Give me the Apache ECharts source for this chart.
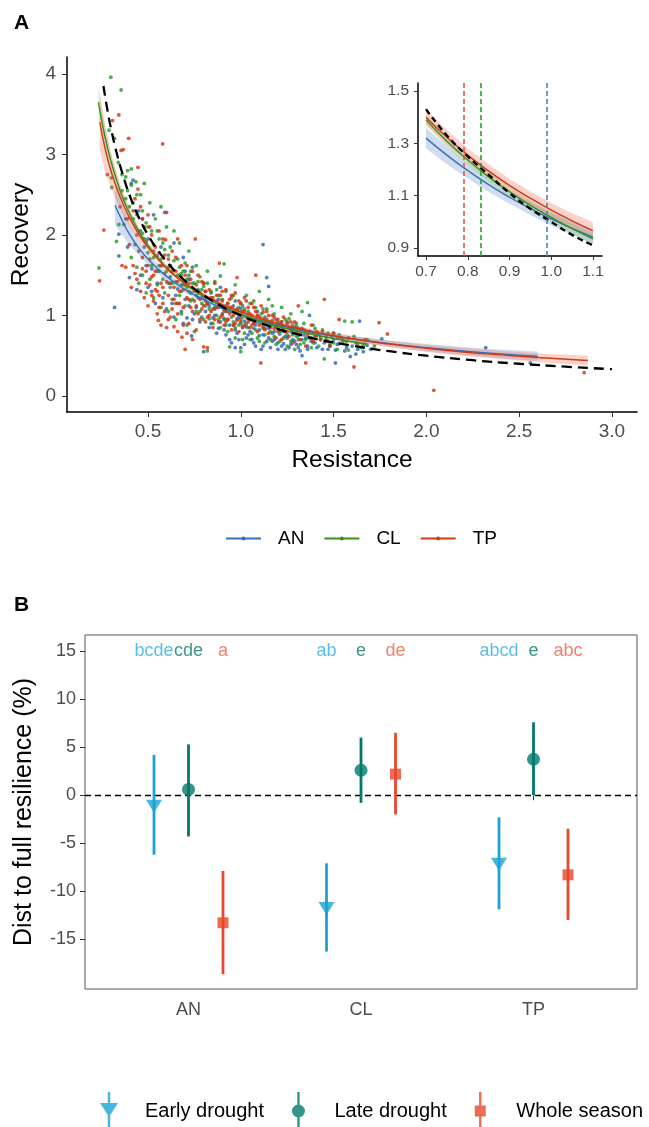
<!DOCTYPE html>
<html><head><meta charset="utf-8">
<script src="https://cdn.jsdelivr.net/npm/echarts@6/dist/echarts.min.js"></script>
<style>html,body{margin:0;padding:0;background:#fff}#c{width:649px;height:1127px}</style>
</head><body><div id="c"></div>
<script>
// ---------- Panel A : scatter points (Resistance, Recovery) ----------
const ptsAN = [[0.32,1.10],[0.343,1.74],[0.343,2.01],[0.41,2.64],[0.42,2.68],[0.40,1.47],[0.44,1.32],[0.45,2.30],
[0.47,2.20],[0.49,1.62],[0.50,1.95],[0.52,1.30],[0.53,2.25],[0.55,1.74],[0.56,1.55],[0.58,1.22],[0.59,2.28],[0.57,1.85],
[0.61,1.40],[0.62,1.62],[0.63,1.15],[0.64,1.90],[0.66,1.33],[0.67,1.50],[0.68,1.05],[0.69,1.72],[0.70,1.20],[0.71,0.97],[0.72,1.45],[0.73,1.28],[0.735,0.745],[0.74,1.60],
[0.76,1.10],[0.77,1.32],[0.78,0.92],[0.79,1.22],[0.80,0.55],[0.80,1.40],[0.81,1.05],[0.82,1.15],[0.83,0.85],[0.84,1.28],[0.85,0.97],[0.86,1.08],[0.87,0.78],[0.88,1.20],[0.89,0.92],[0.89,1.35],
[0.90,1.02],[0.91,0.82],[0.92,1.12],[0.93,0.95],[0.94,0.70],[0.95,1.05],[0.96,0.88],[0.97,0.60],[0.97,1.18],[0.98,0.78],[0.99,0.98],[1.00,0.60],[1.00,1.08],[1.01,0.85],[1.02,0.93],[1.03,0.72],[1.04,1.02],[1.05,0.80],
[1.06,0.95],[1.07,0.66],[1.08,0.88],[1.09,1.05],[1.10,0.75],[1.11,0.92],[1.12,0.62],[1.12,1.88],[1.13,0.84],[1.14,1.47],[1.15,1.36],[1.15,0.72],[1.16,0.90],[1.17,0.68],[1.18,0.80],[1.19,0.95],[1.20,0.58],
[1.21,0.77],[1.22,0.86],[1.23,0.65],[1.24,0.74],[1.25,0.92],[1.26,0.60],[1.27,0.80],[1.28,0.70],[1.29,0.85],[1.30,0.64],[1.31,0.75],[1.32,0.56],[1.33,0.50],[1.35,0.72],[1.36,0.62],[1.37,1.00],[1.38,0.68],[1.39,0.78],
[1.41,0.60],[1.43,0.70],[1.45,0.66],[1.47,0.58],[1.49,0.74],[1.51,0.41],[1.51,0.57],[1.53,0.65],[1.55,0.70],[1.57,0.60],[1.59,0.49],[1.62,0.52],[1.64,0.93],[1.66,0.55],[1.68,0.63],[1.70,0.58],[1.76,0.71],[2.32,0.60],[2.56,0.41],
[0.62,1.48],[0.65,1.25],[0.68,1.38],[0.72,1.12],[0.75,1.02],[0.77,1.22],[0.79,0.98],[0.81,1.30],[0.83,1.12],[0.84,0.90],[0.86,1.00],[0.87,1.18],[0.88,0.84],[0.90,1.10],[0.91,0.96],[0.92,0.76],[0.93,1.05],[0.94,0.88],[0.95,0.66],[0.96,1.12],
[0.97,0.82],[0.98,0.96],[0.99,0.70],[1.00,0.90],[1.01,1.12],[1.02,0.64],[1.03,0.86],[1.04,0.76],[1.05,0.95],[1.06,0.70],[1.07,0.84],[1.08,0.62],[1.09,0.92],[1.10,0.82],[1.11,0.58],[1.12,0.76],[1.13,0.98],[1.14,0.68],[1.15,0.84],[1.16,0.60],
[1.17,0.78],[1.18,0.70],[1.19,0.86],[1.20,0.66],[1.21,0.90],[1.22,0.62],[1.23,0.80],[1.24,0.58],[1.25,0.72],[1.26,0.84],[1.27,0.64],[1.28,0.78],[1.29,0.68],[1.30,0.80],[1.31,0.60],[1.33,0.70],[1.34,0.76],[1.36,0.58],[1.38,0.72],[1.40,0.66],
[1.42,0.76],[1.44,0.58],[1.46,0.68],[1.48,0.62],[1.50,0.70],[1.52,0.64],[1.56,0.56],[1.60,0.62],[1.63,0.58],[0.55,1.40],[0.58,1.62],[0.48,1.85],[0.52,1.58],[0.46,2.05],[0.38,2.20],[0.70,1.55],[0.74,0.95],[0.66,1.15],
[0.39,1.85],[0.46,1.50],[0.50,1.35],[0.54,1.15],[0.60,1.08],[0.64,0.98],[0.69,0.90]];
const ptsCL = [[0.236,1.59],[0.30,3.96],[0.355,3.80],[0.303,2.71],[0.305,2.59],[0.343,2.13],[0.37,2.13],[0.36,2.55],[0.38,2.45],[0.39,2.80],[0.40,2.35],[0.41,2.62],[0.42,2.20],[0.435,2.66],[0.44,2.50],[0.45,2.05],[0.38,2.72],[0.41,2.82],[0.33,1.92],[0.44,1.60],
[0.46,2.50],[0.47,2.30],[0.48,2.64],[0.48,1.95],[0.49,2.15],[0.50,1.78],[0.51,2.40],[0.52,1.62],[0.52,2.05],[0.53,1.88],[0.54,2.20],[0.55,1.55],[0.56,1.95],[0.57,2.35],[0.57,1.70],[0.58,1.45],[0.59,1.82],[0.60,2.10],
[0.61,1.60],[0.62,1.35],[0.62,1.85],[0.63,1.55],[0.64,2.05],[0.65,1.42],[0.66,1.70],[0.67,1.25],[0.67,1.90],[0.68,1.52],[0.69,1.38],[0.70,1.65],[0.70,1.12],[0.71,1.45],[0.72,1.80],[0.72,1.30],[0.73,1.55],[0.74,1.20],[0.75,1.40],
[0.76,1.62],[0.76,1.05],[0.77,1.30],[0.78,1.48],[0.79,1.15],[0.80,1.36],[0.80,0.95],[0.81,1.22],[0.82,0.56],[0.82,1.55],[0.83,1.08],[0.84,1.30],[0.85,0.90],[0.85,1.18],[0.86,1.42],[0.87,1.00],[0.88,1.25],[0.89,0.85],[0.89,1.49],[0.90,1.12],
[0.91,1.64],[0.91,0.95],[0.92,1.30],[0.93,0.80],[0.94,0.61],[0.94,1.10],[0.95,1.22],[0.96,0.92],[0.97,1.38],[0.97,0.72],[0.98,1.05],[0.99,0.88],[1.00,0.55],[1.00,1.15],[1.01,0.98],[1.02,0.78],[1.03,1.25],[1.03,0.90],[1.04,1.05],[1.05,0.70],
[1.06,0.95],[1.07,1.18],[1.08,0.82],[1.09,1.00],[1.10,0.68],[1.10,1.30],[1.11,0.90],[1.12,1.08],[1.13,0.76],[1.14,0.95],[1.15,1.20],[1.16,0.70],[1.17,0.88],[1.18,1.02],[1.19,0.64],[1.20,0.92],
[1.21,0.80],[1.22,1.10],[1.23,0.72],[1.24,0.95],[1.25,0.62],[1.26,0.85],[1.27,1.02],[1.28,0.76],[1.29,0.58],[1.30,0.90],[1.31,0.70],[1.32,0.82],[1.33,1.05],[1.34,0.66],[1.35,0.80],[1.36,1.16],[1.37,0.72],[1.38,0.60],[1.39,0.88],
[1.41,0.75],[1.42,0.62],[1.44,0.82],[1.45,0.46],[1.46,0.70],[1.48,0.64],[1.50,0.78],[1.52,0.58],[1.54,0.72],[1.56,0.93],[1.58,0.57],[1.60,0.92],[1.62,0.66],[1.65,0.60],[1.68,0.70],[1.72,0.62],
[0.47,2.02],[0.50,2.10],[0.53,1.72],[0.55,2.05],[0.56,1.62],[0.58,1.90],[0.60,1.55],[0.61,1.75],[0.63,1.40],[0.64,1.68],[0.66,1.50],[0.67,1.60],[0.68,1.30],[0.69,1.55],[0.71,1.35],[0.72,1.50],[0.73,1.18],[0.74,1.40],[0.76,1.25],[0.77,1.42],
[0.78,1.05],[0.79,1.32],[0.81,1.12],[0.82,1.40],[0.83,0.96],[0.84,1.20],[0.86,1.10],[0.87,1.32],[0.88,0.95],[0.90,1.20],[0.91,1.05],[0.92,0.88],[0.93,1.15],[0.95,0.98],[0.96,1.25],[0.97,0.85],[0.99,1.10],[1.00,0.92],[1.01,0.70],[1.02,1.08],
[1.04,0.85],[1.05,1.15],[1.06,0.78],[1.07,0.92],[1.08,1.10],[1.09,0.72],[1.11,1.02],[1.12,0.84],[1.13,0.66],[1.14,1.08],[1.15,0.88],[1.16,0.80],[1.17,1.12],[1.18,0.74],[1.20,0.84],[1.21,0.68],[1.22,0.92],[1.23,0.82],[1.25,0.76],[1.26,0.96],
[1.27,0.68],[1.28,0.88],[1.30,0.74],[1.31,0.84],[1.32,0.64],[1.34,0.90],[1.35,0.70],[1.37,0.80],[1.39,0.66],[1.40,0.84],[1.43,0.72],[1.47,0.78],[1.50,0.66],[1.53,0.76],[1.57,0.68],[1.61,0.74],[1.66,0.64],[0.42,2.40],[0.44,2.25],[0.39,2.55],
[0.36,2.75],[0.34,2.90],[0.32,3.20],[0.29,3.30],
[0.41,1.72],[0.43,1.88],[0.45,1.40],[0.47,1.50],[0.49,1.28],[0.51,1.45],[0.53,1.22],[0.55,1.38],[0.57,1.10],[0.59,1.28],[0.61,1.05],[0.63,1.20],[0.65,0.95],[0.68,1.02],[0.71,0.88],[0.75,0.80]];
const ptsTP = [[0.239,1.43],[0.262,2.06],[0.281,2.75],[0.309,3.42],[0.343,3.49],[0.355,3.05],[0.367,3.06],[0.396,3.20],[0.446,2.84],[0.446,2.57],[0.36,1.62],[0.38,1.60],[0.40,1.88],[0.42,2.30],[0.43,1.52],[0.44,2.00],[0.35,2.35],[0.39,2.20],[0.41,1.35],[0.45,1.80],
[0.46,2.35],[0.47,1.58],[0.48,2.10],[0.49,1.40],[0.50,2.25],[0.51,1.70],[0.52,1.25],[0.52,2.00],[0.53,1.50],[0.54,1.85],[0.55,1.30],[0.556,0.94],[0.56,2.05],[0.57,1.62],[0.579,3.13],[0.58,1.15],[0.59,1.75],[0.60,2.28],[0.60,1.42],[0.595,1.94],
[0.61,1.25],[0.62,1.62],[0.62,0.98],[0.63,1.80],[0.64,1.35],[0.65,1.15],[0.65,1.55],[0.66,1.95],[0.67,1.30],[0.68,1.48],[0.683,0.73],[0.69,1.10],[0.70,0.58],[0.70,1.38],[0.71,1.62],[0.72,1.20],[0.72,0.90],[0.73,1.45],[0.74,1.05],[0.75,1.30],
[0.755,1.95],[0.76,1.12],[0.77,1.50],[0.78,0.95],[0.78,1.28],[0.79,1.08],[0.80,0.61],[0.80,1.40],[0.81,1.18],[0.82,0.60],[0.82,0.98],[0.83,1.32],[0.84,1.05],[0.85,1.22],[0.85,0.85],[0.86,1.40],[0.87,1.10],[0.88,0.92],[0.885,1.65],[0.89,1.25],[0.90,1.00],
[0.90,1.18],[0.91,0.88],[0.92,1.32],[0.92,1.05],[0.93,0.95],[0.94,1.20],[0.95,0.82],[0.95,1.10],[0.96,1.00],[0.97,1.28],[0.97,0.90],[0.98,1.47],[0.98,1.08],[0.99,0.80],[1.00,1.15],[1.00,0.95],[1.01,1.05],[1.02,0.88],[1.02,1.22],[1.03,0.98],[1.04,1.10],[1.05,0.85],
[1.06,1.00],[1.06,1.15],[1.07,0.90],[1.08,1.05],[1.081,1.50],[1.09,0.80],[1.10,0.98],[1.108,0.41],[1.11,1.12],[1.12,0.86],[1.13,0.95],[1.14,1.05],[1.15,0.78],[1.16,0.92],[1.17,1.00],[1.18,0.84],[1.19,0.72],[1.20,0.95],
[1.21,0.88],[1.22,0.70],[1.23,0.98],[1.24,0.80],[1.25,0.90],[1.26,0.74],[1.27,0.85],[1.28,0.66],[1.29,0.92],[1.30,0.78],[1.31,1.12],[1.32,0.70],[1.33,0.84],[1.35,0.41],[1.35,0.62],[1.36,0.76],[1.38,0.88],[1.39,0.68],
[1.41,0.80],[1.43,0.70],[1.45,1.20],[1.46,0.74],[1.48,0.62],[1.50,0.78],[1.53,0.95],[1.55,0.68],[1.58,0.72],[1.61,0.36],[1.63,0.65],[1.67,0.70],[1.745,0.91],[1.79,0.77],[2.04,0.07],[2.85,0.29],
[0.43,2.45],[0.47,2.20],[0.49,1.92],[0.50,1.62],[0.51,2.10],[0.53,1.80],[0.54,1.55],[0.56,1.78],[0.57,1.40],[0.58,1.95],[0.59,1.52],[0.61,1.70],[0.62,1.40],[0.63,1.55],[0.64,1.20],[0.65,1.72],[0.66,1.42],[0.67,1.15],[0.68,1.62],[0.69,1.32],
[0.70,1.50],[0.71,1.22],[0.72,1.40],[0.73,1.10],[0.74,1.55],[0.75,1.18],[0.76,1.38],[0.77,1.02],[0.78,1.20],[0.79,1.42],[0.80,1.12],[0.81,0.92],[0.81,1.30],[0.82,1.15],[0.83,1.00],[0.84,1.22],[0.85,1.08],[0.86,0.95],[0.87,1.25],[0.88,1.10],
[0.89,0.98],[0.90,1.30],[0.91,1.08],[0.92,0.92],[0.93,1.15],[0.94,1.02],[0.95,1.25],[0.96,0.88],[0.97,1.05],[0.98,0.94],[0.99,1.18],[1.00,1.02],[1.01,0.86],[1.02,1.05],[1.03,1.18],[1.04,0.92],[1.05,1.02],[1.06,0.88],[1.07,1.10],[1.08,0.95],
[1.09,1.00],[1.10,0.88],[1.11,0.96],[1.12,1.04],[1.13,0.82],[1.14,0.92],[1.15,1.00],[1.16,0.85],[1.17,0.94],[1.18,0.98],[1.19,0.86],[1.20,0.80],[1.22,0.92],[1.23,0.84],[1.25,0.80],[1.27,0.92],[1.28,0.82],[1.30,0.86],[1.32,0.78],[1.34,0.82],
[1.37,0.80],[1.40,0.74],[1.44,0.80],[1.47,0.68],[1.52,0.72],[0.60,0.85],[0.66,0.80],[0.74,0.70],[0.56,1.10],[0.76,0.82],
[0.42,1.62],[0.44,1.45],[0.46,1.30],[0.47,1.72],[0.48,1.22],[0.49,1.55],[0.50,1.12],[0.51,1.38],[0.52,1.48],[0.53,1.18],[0.54,1.32],[0.55,1.02],[0.56,1.25],[0.57,0.88],[0.58,1.35],[0.59,1.05],[0.61,0.95],[0.63,1.08],[0.64,0.86],[0.66,1.02],
[0.69,0.88],[0.71,0.78]];

// ---------- Panel A : fitted curves with confidence bands ----------
const fitX_AN = [0.322,0.35,0.4,0.45,0.5,0.6,0.7,0.75,0.8,0.85,0.9,0.95,1.0,1.05,1.1,1.2,1.4,1.6,1.8,2.0,2.2,2.4,2.6];
const fitY_AN = [2.37,2.23,2.01,1.84,1.70,1.485,1.32,1.255,1.196,1.142,1.094,1.051,1.011,0.975,0.941,0.881,0.785,0.710,0.650,0.600,0.559,0.523,0.493];
const fitSE_AN = [0.25,0.20,0.13,0.09,0.07,0.05,0.04,0.035,0.03,0.028,0.025,0.025,0.025,0.025,0.025,0.025,0.03,0.035,0.04,0.045,0.05,0.055,0.06];
const fitX_CL = [0.233,0.26,0.3,0.35,0.4,0.45,0.5,0.6,0.7,0.75,0.8,0.85,0.9,0.95,1.0,1.05,1.1,1.2,1.3,1.4,1.5,1.6,1.68];
const fitY_CL = [3.65,3.31,2.92,2.55,2.27,2.05,1.87,1.59,1.39,1.308,1.236,1.172,1.115,1.063,1.017,0.974,0.935,0.866,0.808,0.757,0.712,0.673,0.645];
const fitSE_CL = [0.20,0.15,0.10,0.07,0.05,0.04,0.03,0.025,0.02,0.02,0.02,0.02,0.02,0.02,0.02,0.02,0.02,0.02,0.022,0.025,0.028,0.032,0.035];
const fitX_TP = [0.24,0.27,0.3,0.35,0.4,0.45,0.5,0.6,0.7,0.75,0.8,0.85,0.9,0.95,1.0,1.05,1.1,1.2,1.4,1.6,1.8,2.0,2.2,2.4,2.6,2.87];
const fitY_TP = [3.40,3.06,2.80,2.47,2.215,2.01,1.845,1.59,1.40,1.323,1.255,1.194,1.139,1.090,1.045,1.004,0.966,0.900,0.793,0.711,0.645,0.592,0.547,0.510,0.477,0.440];
const fitSE_TP = [0.35,0.28,0.22,0.15,0.11,0.08,0.06,0.04,0.03,0.028,0.026,0.026,0.026,0.026,0.027,0.029,0.032,0.03,0.03,0.035,0.04,0.045,0.05,0.05,0.055,0.06];
// full-resilience reference curve (black dashed)
const refX = [0.26,0.28,0.3,0.33,0.36,0.4,0.45,0.5,0.55,0.6,0.65,0.7,0.75,0.8,0.85,0.9,0.95,1.0,1.05,1.1,1.2,1.3,1.4,1.6,1.8,2.0,2.25,2.5,2.75,3.0];
const refY = [3.85,3.57,3.33,3.03,2.78,2.50,2.22,2.00,1.82,1.67,1.54,1.43,1.33,1.25,1.18,1.11,1.05,1.00,0.95,0.91,0.83,0.77,0.71,0.625,0.556,0.50,0.444,0.40,0.364,0.333];
// inset vertical lines (resistance at which each site reaches full resilience)
const vlineSites = ['TP','CL','AN'];
const vlineX = [0.794,0.834,0.995];
const groupsA = ['AN','CL','TP'];
const xTicksA = [0.5,1.0,1.5,2.0,2.5,3.0];
const yTicksA = [0,1,2,3,4];
const xTicksIn = [0.7,0.8,0.9,1.0,1.1];
const yTicksIn = [0.9,1.1,1.3,1.5];

// ---------- Panel B ----------
const sites = ['AN','CL','TP'];
const treatments = ['Early drought','Late drought','Whole season'];
const earlyMean = [-1.15,-11.8,-7.2], earlyLo = [-6.2,-16.3,-11.9], earlyHi = [4.2,-7.1,-2.3];
const lateMean = [0.6,2.6,3.75], lateLo = [-4.3,-0.8,0.0], lateHi = [5.3,6.0,7.6];
const wholeMean = [-13.3,2.2,-8.3], wholeLo = [-18.65,-2.0,-13.0], wholeHi = [-7.9,6.5,-3.5];
const earlyLetters = ['bcde','ab','abcd'];
const lateLetters = ['cde','e','e'];
const wholeLetters = ['a','de','abc'];
const letterY = 15;
const yTicksB = [-15,-10,-5,0,5,10,15];

// ---------- styling ----------
const FONT = 'Liberation Sans, Arial, Helvetica, sans-serif';
const colPt = {AN:'#2a62ad', CL:'#1f9a22', TP:'#d2300f'};
const colLine = {AN:'#3470b6', CL:'#3f8d1c', TP:'#cc3b14'};
const colBand = {AN:'rgba(70,120,190,0.25)', CL:'rgba(60,170,40,0.18)', TP:'rgba(240,95,65,0.28)'};
const colVline = {AN:'#4a7fc0', CL:'#24a524', TP:'#e8553a'};
const colB = ['#1aa3d4','#00796b','#e8472b'];
const colLetters = ['#35ade0','#0a7a6c','#f0604a'];
const dodge = [-0.2, 0, 0.2];

const fits = {AN:[fitX_AN,fitY_AN,fitSE_AN], CL:[fitX_CL,fitY_CL,fitSE_CL], TP:[fitX_TP,fitY_TP,fitSE_TP]};
const pts = {AN:ptsAN, CL:ptsCL, TP:ptsTP};

function inRange(x, lo, hi){ return x >= lo - 1e-9 && x <= hi + 1e-9; }

function bandSeries(name, xs, ys, se, color, idx, lo, hi){
  const data = [];
  xs.forEach((x,i)=>{ if (inRange(x,lo,hi)) data.push([x, ys[i]-se[i], ys[i]+se[i]]); });
  return {type:'custom', name:name, xAxisIndex:idx, yAxisIndex:idx, z:2, silent:true, data:data,
    encode:{x:0, y:[1,2]},
    renderItem:function(params, api){
      if (params.dataIndex !== 0) return null;
      const up = data.map(d=>api.coord([d[0], d[2]]));
      const dn = data.map(d=>api.coord([d[0], d[1]])).reverse();
      return {type:'polygon', shape:{points:up.concat(dn)}, style:{fill:color}};
    }};
}

const series = [];
// points
groupsA.forEach(g=>{
  series.push({type:'scatter', name:g+' points', xAxisIndex:0, yAxisIndex:0, data:pts[g], symbolSize:3.8,
    itemStyle:{color:colPt[g]}, z:1, silent:true});
});
// bands main + inset
groupsA.forEach(g=>{
  const f = fits[g];
  series.push(bandSeries(g+' band', f[0], f[1], f[2], colBand[g], 0, 0, 10));
  series.push(bandSeries(g+' band inset', f[0], f[1], f[2], colBand[g], 1, 0.7, 1.1));
});
// fit lines main
groupsA.forEach(g=>{
  const f = fits[g];
  series.push({type:'line', name:g, xAxisIndex:0, yAxisIndex:0, z:3, smooth:true, silent:true,
    data:f[0].map((x,i)=>[x,f[1][i]]), symbol:'circle', symbolSize:4, showSymbol:false,
    itemStyle:{color:colLine[g]}, lineStyle:{color:colLine[g], width:1.4}});
});
// reference dashed main
series.push({type:'line', name:'ref', xAxisIndex:0, yAxisIndex:0, z:4, smooth:true, silent:true, showSymbol:false,
  data:refX.map((x,i)=>[x,refY[i]]), lineStyle:{color:'#000', width:2.3, type:[10,6]}});
// inset vertical lines
vlineSites.forEach((g,i)=>{
  series.push({type:'line', name:g+' vline', xAxisIndex:1, yAxisIndex:1, z:2, silent:true, data:[],
    markLine:{silent:true, symbol:'none', label:{show:false},
      lineStyle:{color:colVline[g], width:1.6, type:[5,3]}, data:[{xAxis:vlineX[i]}]}});
});
// inset fit lines
groupsA.forEach(g=>{
  const f = fits[g];
  const d = []; f[0].forEach((x,i)=>{ if (inRange(x,0.7,1.1)) d.push([x,f[1][i]]); });
  series.push({type:'line', name:g+' inset', xAxisIndex:1, yAxisIndex:1, z:3, smooth:true, silent:true, showSymbol:false,
    data:d, lineStyle:{color:colLine[g], width:1.4}});
});
{
  const d = []; refX.forEach((x,i)=>{ if (inRange(x,0.7,1.1)) d.push([x,refY[i]]); });
  series.push({type:'line', name:'ref inset', xAxisIndex:1, yAxisIndex:1, z:4, smooth:true, silent:true, showSymbol:false,
    data:d, lineStyle:{color:'#000', width:2.4, type:[6,4]}});
}

// Panel B
const means = [earlyMean, lateMean, wholeMean];
const los = [earlyLo, lateLo, wholeLo];
const his = [earlyHi, lateHi, wholeHi];
const letters = [earlyLetters, lateLetters, wholeLetters];
const symB = [{symbol:'triangle', symbolRotate:180, symbolSize:[16,13]}, {symbol:'circle', symbolSize:13}, {symbol:'rect', symbolSize:11}];
treatments.forEach((t,k)=>{
  const xs = sites.map((s,i)=>i+1+dodge[k]);
  const s = {type:'scatter', name:t, xAxisIndex:2, yAxisIndex:2, z:5, silent:true,
    data:xs.map((x,i)=>[x, means[k][i]]), itemStyle:{color:colB[k]}};
  Object.assign(s, symB[k]);
  if (k === 0) s.markLine = {silent:true, symbol:'none', label:{show:false}, z:1,
      lineStyle:{color:'#000', width:1.3, type:[6,4]}, data:[{yAxis:0}]};
  series.push(s);
  const color = colB[k];
  series.push({type:'custom', name:t, xAxisIndex:2, yAxisIndex:2, z:4, silent:true,
    data:xs.map((x,i)=>[x, los[k][i], his[k][i]]), encode:{x:0, y:[1,2]},
    renderItem:function(params, api){
      const a = api.coord([api.value(0), api.value(1)]);
      const b = api.coord([api.value(0), api.value(2)]);
      return {type:'line', shape:{x1:a[0], y1:a[1], x2:b[0], y2:b[1]}, style:{stroke:color, lineWidth:2.8}};
    }});
  series.push({type:'scatter', name:t+' letters', xAxisIndex:2, yAxisIndex:2, z:5, silent:true, symbolSize:0,
    data:xs.map((x,i)=>({name:letters[k][i], value:[x, letterY]})),
    label:{show:true, position:'inside', formatter:'{b}', color:colLetters[k], fontSize:18, fontFamily:FONT}});
});

const tickLab = (sz)=>({color:'#4d4d4d', fontSize:sz, fontFamily:FONT});
const option = {
  animation:false,
  backgroundColor:'#fff',
  title:[
    {text:'A', left:9, top:8, textStyle:{fontSize:21, fontWeight:'bold', color:'#000', fontFamily:FONT}},
    {text:'B', left:9, top:590, textStyle:{fontSize:21, fontWeight:'bold', color:'#000', fontFamily:FONT}}
  ],
  grid:[
    {left:67, top:57, width:570, height:355},
    {left:418, top:83, width:184, height:173},
    {left:85, top:635, width:552, height:354, show:true, borderColor:'#555', borderWidth:1, backgroundColor:'transparent'}
  ],
  xAxis:[
    {type:'value', gridIndex:0, min:0.0636, max:3.135, name:'Resistance', nameLocation:'middle', nameGap:36,
     nameTextStyle:{fontSize:24.5, color:'#000', fontFamily:FONT},
     axisLine:{show:true, onZero:false, lineStyle:{color:'#000', width:1.5}},
     axisTick:{show:true, length:5, customValues:xTicksA, lineStyle:{color:'#333'}},
     axisLabel:{customValues:xTicksA, formatter:v=>v.toFixed(1), margin:10, ...tickLab(19)},
     splitLine:{show:false}},
    {type:'value', gridIndex:1, min:0.6808, max:1.1216,
     axisLine:{show:true, onZero:false, lineStyle:{color:'#000', width:1.5}},
     axisTick:{show:true, length:4, customValues:xTicksIn, lineStyle:{color:'#333'}},
     axisLabel:{customValues:xTicksIn, formatter:v=>v.toFixed(1), margin:8, ...tickLab(15.5)},
     splitLine:{show:false}},
    {type:'value', gridIndex:2, min:0.4, max:3.6,
     axisLine:{show:false},
     axisTick:{show:true, length:5, customValues:[1,2,3], lineStyle:{color:'#333'}},
     axisLabel:{customValues:[1,2,3], formatter:v=>sites[Math.round(v)-1], margin:12, ...tickLab(18)},
     splitLine:{show:false}}
  ],
  yAxis:[
    {type:'value', gridIndex:0, min:-0.199, max:4.21, name:'Recovery', nameLocation:'middle', nameGap:33,
     nameTextStyle:{fontSize:24.5, color:'#000', fontFamily:FONT},
     axisLine:{show:true, onZero:false, lineStyle:{color:'#000', width:1.5}},
     axisTick:{show:true, length:5, customValues:yTicksA, lineStyle:{color:'#333'}},
     axisLabel:{customValues:yTicksA, margin:11, ...tickLab(19)},
     splitLine:{show:false}},
    {type:'value', gridIndex:1, min:0.8694, max:1.5306,
     axisLine:{show:true, onZero:false, lineStyle:{color:'#000', width:1.5}},
     axisTick:{show:true, length:4, customValues:yTicksIn, lineStyle:{color:'#333'}},
     axisLabel:{customValues:yTicksIn, formatter:v=>v.toFixed(1), margin:9, ...tickLab(15.5)},
     splitLine:{show:false}},
    {type:'value', gridIndex:2, min:-20.2, max:16.7, name:'Dist to full resilience (%)', nameLocation:'middle', nameGap:48,
     nameTextStyle:{fontSize:25, color:'#000', fontFamily:FONT},
     axisLine:{show:false},
     axisTick:{show:true, length:5, customValues:yTicksB, lineStyle:{color:'#333'}},
     axisLabel:{customValues:yTicksB, margin:9, ...tickLab(18)},
     splitLine:{show:false}}
  ],
  legend:[
    {data:groupsA, left:225, top:529, padding:0, itemWidth:35, itemHeight:5, itemGap:19,
     lineStyle:{width:2},
     textStyle:{fontSize:19, color:'#000', fontFamily:FONT, padding:[0,0,0,12]}, selectedMode:false},
    {data:[
      {name:treatments[0], icon:'path://M7.8,0h2.4v38h-2.4z M0,11h18l-9,14z'},
      {name:treatments[1], icon:'path://M7.8,0h2.4v13h-2.4z M7.8,25h2.4v13h-2.4z M2.5,19a6.5,6.5 0 1,1 13,0a6.5,6.5 0 1,1 -13,0z'},
      {name:treatments[2], icon:'path://M7.8,0h2.4v38h-2.4z M3.5,13.5h11v11h-11z'}],
     left:100, top:1092, padding:0, itemWidth:18, itemHeight:38, itemGap:28, selectedMode:false,
     textStyle:{fontSize:20, color:'#000', fontFamily:FONT, padding:[0,0,0,22]}}
  ],
  series:series
};
const chart = echarts.init(document.getElementById('c'), null, {renderer:'canvas'});
chart.setOption(option);
</script></body></html>
